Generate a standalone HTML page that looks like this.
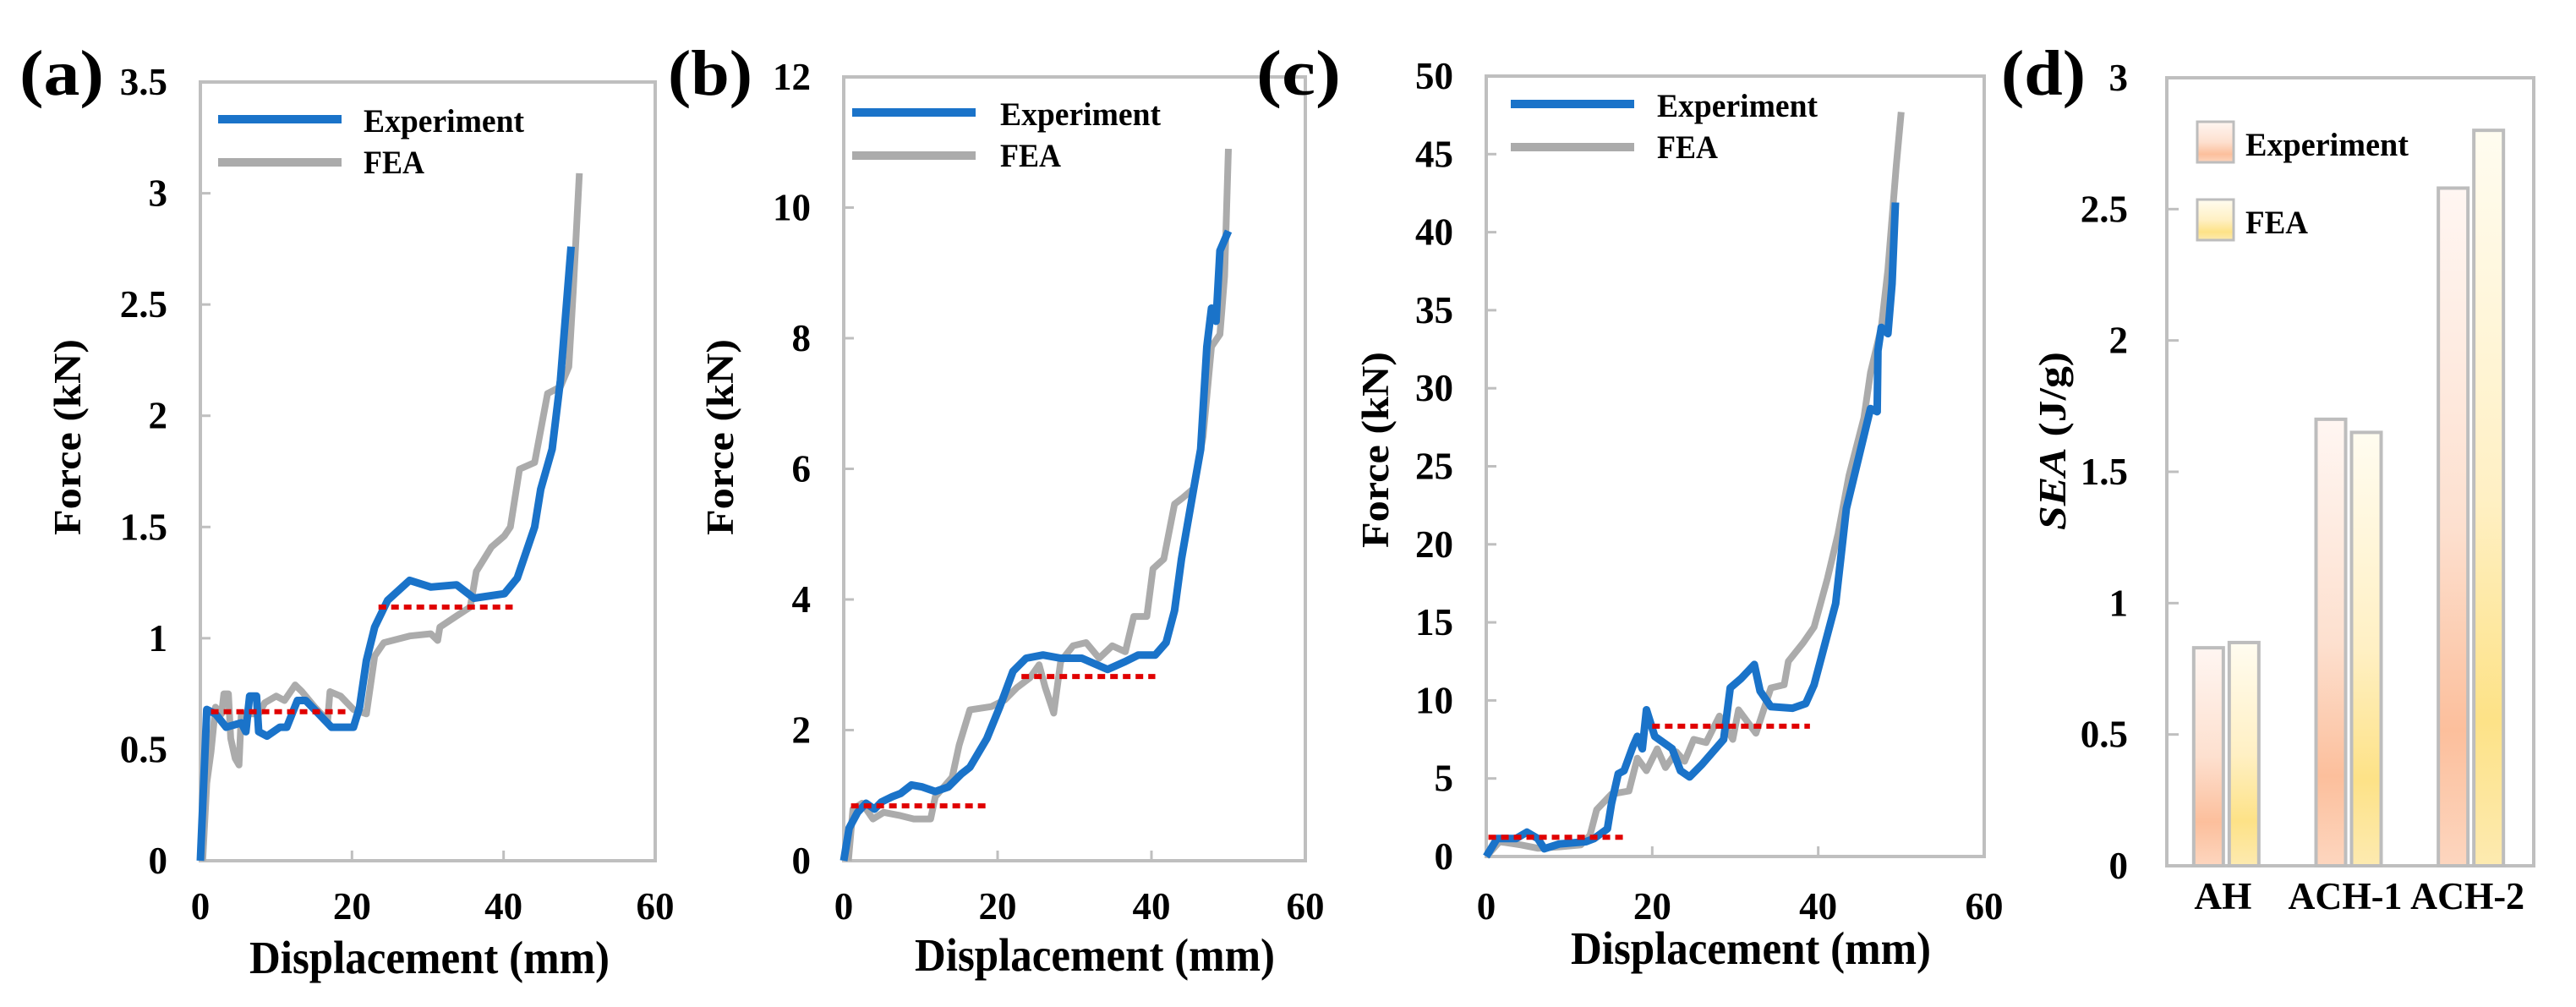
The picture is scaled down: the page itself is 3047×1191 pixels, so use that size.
<!DOCTYPE html>
<html><head><meta charset="utf-8"><style>
html,body{margin:0;padding:0;background:#fff;}
svg{display:block;}
svg text{font-family:"Liberation Serif","DejaVu Serif","Times New Roman",serif !important;font-weight:bold;fill:#000;}
</style></head><body>
<svg id="chart" width="3047" height="1191" viewBox="0 0 3047 1191" xmlns="http://www.w3.org/2000/svg" font-family="Liberation Serif, serif" font-weight="bold">
<defs>
<linearGradient id="gExp" x1="0" y1="0" x2="0" y2="1">
<stop offset="0" stop-color="#fff6f2"/><stop offset="0.5" stop-color="#fde0cf"/><stop offset="0.8" stop-color="#fcbf9c"/><stop offset="1" stop-color="#fdd6bf"/>
</linearGradient>
<linearGradient id="gFea" x1="0" y1="0" x2="0" y2="1">
<stop offset="0" stop-color="#fffcf0"/><stop offset="0.5" stop-color="#fff0c4"/><stop offset="0.8" stop-color="#fde287"/><stop offset="1" stop-color="#fdeab0"/>
</linearGradient>
</defs>
<g id="root"></g>
</svg>
<script>
// ---- Panel (a) data ----
const aExpX=[0,0.85,2,3.4,5.4,6,6.5,7.4,7.7,8.8,10.5,11.4,12.8,13.9,15.6,17.3,20.2,21,21.9,23,24.7,27.6,30.4,33.8,36.1,40.1,41.8,44.1,44.9,46.4,47.5,48.9];
const aExpY=[0,0.68,0.66,0.6,0.62,0.58,0.74,0.74,0.58,0.56,0.6,0.6,0.72,0.72,0.66,0.6,0.6,0.69,0.9,1.05,1.17,1.26,1.23,1.24,1.18,1.2,1.27,1.5,1.67,1.85,2.16,2.76];
const aFeaX=[0.3,0.85,1.4,2,2.8,3.1,3.7,4,4.6,5.1,5.4,6.5,7.7,8.5,10,11.1,12.5,13.4,15.1,16.8,17.1,18.5,20.2,21.9,23,24.2,27.6,30.4,31.3,31.6,33.8,35.6,36.4,38.4,40.1,40.9,42.1,44.1,45.8,47.5,48.6,49.2,50];
const aFeaY=[0,0.35,0.49,0.69,0.66,0.75,0.75,0.55,0.46,0.43,0.66,0.66,0.66,0.71,0.74,0.72,0.79,0.76,0.69,0.63,0.76,0.74,0.68,0.66,0.92,0.98,1.01,1.02,0.99,1.05,1.1,1.14,1.3,1.41,1.46,1.5,1.76,1.79,2.1,2.13,2.22,2.57,3.09];
const aPlateauX1=[1.4,23.5];
const aPlateauX2=[19.3,41.2];
const aPlateauY=[0.67,1.14];
const aYTicks=["0","0.5","1","1.5","2","2.5","3","3.5"];
// ---- Panel (b) data ----
const bExpX=[0,0.7,1.8,2.9,4,4.9,6.3,7.4,8.8,10.2,11.9,13.6,15.3,16.4,18.6,20.3,22,23.7,25.9,28.2,30.95,34.3,36.6,38.3,40.5,41.9,43,43.9,45.5,46.4,47.2,47.8,48.4,48.9,50];
const bExpY=[0,0.5,0.74,0.88,0.79,0.9,0.98,1.03,1.16,1.13,1.06,1.13,1.33,1.43,1.87,2.36,2.9,3.1,3.15,3.1,3.1,2.93,3.05,3.15,3.15,3.34,3.83,4.62,5.7,6.3,7.87,8.46,8.26,9.34,9.64];
const bFeaX=[0.6,1.2,2.4,3.8,5.2,7.4,9.1,11.3,11.9,14.1,15,16.4,19.2,20.9,22.5,24.2,25.4,26.2,27.3,28.2,29.8,31.5,33.2,34.9,36.6,37.7,39.4,40.2,41.6,43,44.1,45.5,46.7,47.8,48.9,49.5,50];
const bFeaY=[0,0.79,0.88,0.64,0.74,0.69,0.64,0.64,0.98,1.28,1.77,2.31,2.36,2.46,2.65,2.8,3,2.65,2.26,3.05,3.29,3.34,3.1,3.29,3.2,3.74,3.74,4.47,4.62,5.46,5.56,5.7,6.49,7.87,8.06,8.95,10.9];
const bPlateauX1=[0.95,23.1];
const bPlateauX2=[18.6,40.5];
const bPlateauY=[0.84,2.82];
const bYTicks=["0","2","4","6","8","10","12"];
// ---- Panel (c) data ----
const cExpX=[0,1.3,3.6,4.9,6.2,7,8.8,12,13,14.6,15.1,15.9,16.6,17.7,18.2,18.8,19.3,20.3,22.4,23.4,24.5,26,28.6,29.4,30.7,32.3,33,34.3,36.9,38.5,39.5,42.1,43.4,46.3,47.1,47.2,47.6,48.4,48.9,49.3];
const cExpY=[0,1.15,1.15,1.56,1.15,0.5,0.8,0.95,1.15,1.77,3.4,5.3,5.5,7.1,7.7,6.9,9.4,7.7,6.9,5.5,5.1,5.9,7.5,10.8,11.4,12.3,10.6,9.6,9.5,9.8,11,16.2,22.3,28.7,28.5,32.4,33.9,33.5,36.7,41.9];
const cFeaX=[0,1.6,4.2,6.2,8.8,11.4,12.5,13.3,15.1,17.2,18.2,19.3,20.6,21.6,22.9,23.9,25,26.5,28.1,29.7,30.4,32.5,34.3,35.9,36.4,38.2,39.5,41.1,42.4,43.7,45.5,46.3,47.6,48.4,49.4,50];
const cFeaY=[0,0.95,0.74,0.53,0.62,0.74,1.36,3,4,4.2,6.3,5.5,6.9,5.7,6.7,6.1,7.5,7.3,9,7.5,9.4,7.9,10.8,11,12.5,13.7,14.7,17.8,20.7,24.4,28.1,31,33.9,37.6,44.2,47.7];
const cPlateauX1=[0.26,20];
const cPlateauX2=[16.6,39];
const cPlateauY=[1.23,8.35];
const cYTicks=["0","5","10","15","20","25","30","35","40","45","50"];
const xTicks=["0","20","40","60"];
// ---- Panel (d) data ----
const dCategories=["AH","ACH-1","ACH-2"];
const dExp=[0.83,1.7,2.58];
const dFea=[0.85,1.65,2.8];
const dYTicks=["0","0.5","1","1.5","2","2.5","3"];

const NS="http://www.w3.org/2000/svg";
const root=document.getElementById('root');
const FONT='Liberation Serif, DejaVu Serif, serif';
function mk(tag,attrs,parent){const e=document.createElementNS(NS,tag);for(const k in attrs)e.setAttribute(k,attrs[k]);if(tag==='text'){e.setAttribute('font-family',FONT);e.setAttribute('font-weight','bold');}(parent||root).appendChild(e);return e;}

const panels=[
 {id:'a',L:237,R:775,T:97,B:1018,ymax:3.5,ticks:aYTicks,ex:aExpX,ey:aExpY,fx:aFeaX,fy:aFeaY,p1:aPlateauX1,p2:aPlateauX2,py:aPlateauY,lab:23,titleX:508,titleY:1151,yTitleX:79,yTitleY:517,legX:258,legY:141,txtX:430},
 {id:'b',L:998,R:1544,T:91,B:1018,ymax:12,ticks:bYTicks,ex:bExpX,ey:bExpY,fx:bFeaX,fy:bFeaY,p1:bPlateauX1,p2:bPlateauX2,py:bPlateauY,lab:790,titleX:1295,titleY:1148,yTitleX:851,yTitleY:517,legX:1008,legY:133,txtX:1183},
 {id:'c',L:1758,R:2347,T:90,B:1013,ymax:50,ticks:cYTicks,ex:cExpX,ey:cExpY,fx:cFeaX,fy:cFeaY,p1:cPlateauX1,p2:cPlateauX2,py:cPlateauY,lab:1486,titleX:2071,titleY:1140,yTitleX:1626,yTitleY:532,legX:1787,legY:123,txtX:1960}
];

function txt(parent,str,x,y,size,anchor,name){
  const t=mk('text',{x:x,y:y,'font-size':size,'text-anchor':anchor},parent);
  
  
  t.textContent=str;return t;
}

panels.forEach(p=>{
  const g=mk('g',{});
  
  
  const xs=v=>p.L+(v/60)*(p.R-p.L);
  const ys=v=>p.B-(v/p.ymax)*(p.B-p.T);
  const fr=mk('rect',{x:p.L,y:p.T,width:p.R-p.L,height:p.B-p.T,fill:'none',stroke:'#bfbfbf','stroke-width':4},g);
  
  
  p.ticks.forEach(s=>{
    const y=ys(parseFloat(s));
    const tk=mk('line',{x1:p.L,x2:p.L+12,y1:y,y2:y,stroke:'#bfbfbf','stroke-width':3},g);
    
    
    txt(g,s,p.L-39,y+15,45,'end','y-tick-label');
  });
  xTicks.forEach(s=>{
    const x=xs(parseFloat(s));
    const tk=mk('line',{x1:x,x2:x,y1:p.B,y2:p.B-12,stroke:'#bfbfbf','stroke-width':3},g);
    
    
    txt(g,s,x,1087,45,'middle','x-tick-label');
  });
  const path=(X,Y)=>X.map((v,i)=>(i?'L':'M')+xs(v).toFixed(1)+','+ys(Y[i]).toFixed(1)).join(' ');
  const fe=mk('path',{d:path(p.fx,p.fy),fill:'none',stroke:'#ababab','stroke-width':8,'stroke-linejoin':'round'},g);
  
  
  const ex=mk('path',{d:path(p.ex,p.ey),fill:'none',stroke:'#1a73c9','stroke-width':9,'stroke-linejoin':'round'},g);
  
  
  p.py.forEach((v,i)=>{
    const l=mk('line',{x1:xs(p.p1[i]),x2:xs(p.p2[i]),y1:ys(v),y2:ys(v),stroke:'#e00000','stroke-width':6,'stroke-dasharray':'9 6'},g);
    
    
  });
  const l1=mk('line',{x1:p.legX,x2:p.legX+146,y1:p.legY,y2:p.legY,stroke:'#1a73c9','stroke-width':10},g);
  
  
  const l2=mk('line',{x1:p.legX,x2:p.legX+146,y1:p.legY+51,y2:p.legY+51,stroke:'#ababab','stroke-width':10},g);
  
  
  const t1=mk('text',{x:p.txtX,y:p.legY+15,'font-size':39,textLength:190,lengthAdjust:'spacingAndGlyphs'},g);
  
  
  t1.textContent='Experiment';
  const t2=mk('text',{x:p.txtX,y:p.legY+64,'font-size':39,textLength:72,lengthAdjust:'spacingAndGlyphs'},g);
  
  
  t2.textContent='FEA';
  const xt=mk('text',{x:p.titleX-213,y:p.titleY,'font-size':55,textLength:426,lengthAdjust:'spacingAndGlyphs'},g);
  
  
  xt.textContent='Displacement (mm)';
  const yt=mk('text',{x:0,y:0,'font-size':45,textLength:232,lengthAdjust:'spacingAndGlyphs',transform:`translate(${p.yTitleX+16},${p.yTitleY+116}) rotate(-90)`},g);
  
  
  yt.textContent='Force (kN)';
  const pl=mk('text',{x:p.lab,y:112,'font-size':76,textLength:100,lengthAdjust:'spacingAndGlyphs'},g);
  
  
  pl.textContent='('+p.id+')';
});

// ---- Panel (d) bar chart ----
(function(){
  const L=2563,R=2997,T=92,B=1024,ymax=3;
  const g=mk('g',{});
  
  
  const ys=v=>B-(v/ymax)*(B-T);
  const band=(R-L)/dCategories.length;
  const bw=35,gap=7;
  const fr=mk('rect',{x:L,y:T,width:R-L,height:B-T,fill:'none',stroke:'#bfbfbf','stroke-width':4},g);
  
  
  dYTicks.forEach(s=>{
    const y=ys(parseFloat(s));
    const tk=mk('line',{x1:L,x2:L+14,y1:y,y2:y,stroke:'#bfbfbf','stroke-width':3},g);
    
    
    txt(g,s,L-46,y+15,45,'end','y-tick-label');
  });
  dCategories.forEach((c,i)=>{
    const cx=L+band*(i+0.5)-2;
    const r1=mk('rect',{x:cx-gap/2-bw,y:ys(dExp[i]),width:bw,height:B-ys(dExp[i]),fill:'url(#gExp)',stroke:'#bdbdbd','stroke-width':4},g);
    
    
    const r2=mk('rect',{x:cx+gap/2,y:ys(dFea[i]),width:bw,height:B-ys(dFea[i]),fill:'url(#gFea)',stroke:'#bdbdbd','stroke-width':4},g);
    
    
    const w=c.length<3?68:135;
    const t=mk('text',{x:cx-4-w/2,y:1075,'font-size':45,textLength:w,lengthAdjust:'spacingAndGlyphs'},g);
    
    
    t.textContent=c;
  });
  const b1=mk('rect',{x:2599,y:144,width:43,height:48,fill:'url(#gExp)',stroke:'#bdbdbd','stroke-width':3},g);
  
  
  const b2=mk('rect',{x:2599,y:236,width:43,height:48,fill:'url(#gFea)',stroke:'#bdbdbd','stroke-width':3},g);
  
  
  const t1=mk('text',{x:2656,y:184,'font-size':39,textLength:193,lengthAdjust:'spacingAndGlyphs'},g);
  
  
  t1.textContent='Experiment';
  const t2=mk('text',{x:2656,y:276,'font-size':39,textLength:74,lengthAdjust:'spacingAndGlyphs'},g);
  
  
  t2.textContent='FEA';
  const yt=mk('text',{x:0,y:0,'font-size':45,textLength:211,lengthAdjust:'spacingAndGlyphs',transform:'translate(2443,627) rotate(-90)'},g);
  
  
  const ts=mk('tspan',{'font-style':'italic'},yt);ts.textContent='SEA';
  const ts2=mk('tspan',{},yt);ts2.textContent=' (J/g)';
  const pl=mk('text',{x:2367,y:112,'font-size':76,textLength:100,lengthAdjust:'spacingAndGlyphs'},g);
  
  
  pl.textContent='(d)';
})();
</script>
</body></html>
